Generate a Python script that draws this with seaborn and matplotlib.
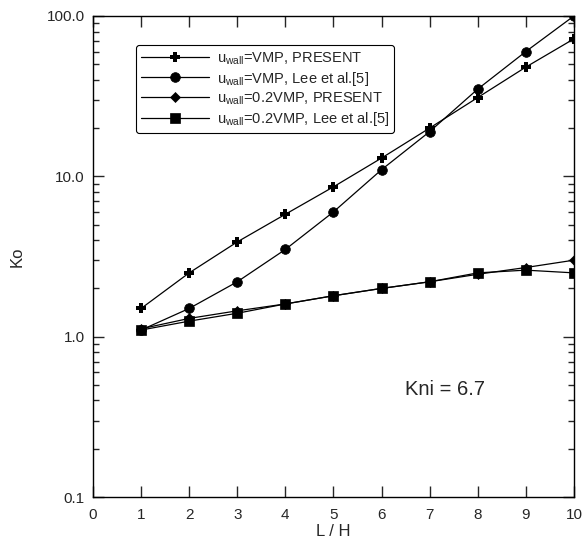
import matplotlib
matplotlib.use("Agg")
import matplotlib.pyplot as plt
import seaborn as sns
import pandas as pd
import numpy as np
from matplotlib.ticker import FixedLocator, FixedFormatter, LogLocator, NullFormatter

sns.set_style("ticks")
plt.rcParams['font.family'] = ['Liberation Sans', 'DejaVu Sans']
plt.rcParams['mathtext.fontset'] = 'custom'
plt.rcParams['mathtext.rm'] = 'Liberation Sans'

x_vals = [1, 2, 3, 4, 5, 6, 7, 8, 9, 10]
vmp_present = [1.5, 2.5, 3.9, 5.8, 8.6, 13.0, 20.0, 31.0, 48.0, 72.0]
vmp_lee = [1.1, 1.5, 2.2, 3.5, 6.0, 11.0, 19.0, 35.0, 60.0, 100.0]
vmp02_present = [1.12, 1.3, 1.45, 1.6, 1.8, 2.0, 2.2, 2.45, 2.7, 3.0]
vmp02_lee = [1.1, 1.25, 1.4, 1.6, 1.8, 2.0, 2.2, 2.5, 2.6, 2.5]

labels = [r"u$_{\mathrm{wall}}$=VMP, PRESENT",
          r"u$_{\mathrm{wall}}$=VMP, Lee et al.[5]",
          r"u$_{\mathrm{wall}}$=0.2VMP, PRESENT",
          r"u$_{\mathrm{wall}}$=0.2VMP, Lee et al.[5]"]
markers = ["P", "o", "D", "s"]
msizes = [7, 7, 5, 7]
series = [vmp_present, vmp_lee, vmp02_present, vmp02_lee]

fig = plt.figure(figsize=(5.85, 5.46), dpi=100)
ax = fig.add_axes([0.159, 0.0897, 0.822, 0.881])

for ys, lab, m, ms in zip(series, labels, markers, msizes):
    df = pd.DataFrame({"x": x_vals, "y": ys})
    sns.lineplot(data=df, x="x", y="y", ax=ax, color="black", lw=0.9,
                 marker=m, markersize=ms, markeredgewidth=0.5 if m != "P" else 0,
                 markerfacecolor="black", markeredgecolor="black", label=lab)

ax.set_yscale("log")
ax.set_xlim(0, 10)
ax.set_ylim(0.1, 100)
ax.yaxis.set_major_locator(FixedLocator([0.1, 1, 10, 100]))
ax.yaxis.set_major_formatter(FixedFormatter(["0.1", "1.0", "10.0", "100.0"]))
ax.yaxis.set_minor_locator(LogLocator(base=10, subs=np.arange(2, 10), numticks=10))
ax.yaxis.set_minor_formatter(NullFormatter())
ax.set_xticks(range(0, 11))
ax.tick_params(which="both", direction="in", top=True, right=True, labelsize=11)
ax.tick_params(axis="x", pad=8)
ax.tick_params(axis="y", pad=6)
ax.tick_params(which="major", length=8, width=1)
ax.tick_params(which="minor", length=4, width=1)
for s in ax.spines.values():
    s.set_linewidth(1)
    s.set_color("black")

ax.set_xlabel("L / H", fontsize=12, labelpad=1)
ax.set_ylabel("Ko", fontsize=12, labelpad=16)
ax.text(6.49, 0.467, "Kni = 6.7", fontsize=14.5, ha="left", va="center")

leg = ax.legend(loc="upper left", bbox_to_anchor=(0.089, 0.94), fontsize=10.5,
                frameon=True, fancybox=True, edgecolor="black", framealpha=1,
                handlelength=4.7, handletextpad=0.5, borderpad=0.35,
                labelspacing=0.2, borderaxespad=0)
leg.get_frame().set_linewidth(0.8)

fig.savefig("out.png", dpi=100)
